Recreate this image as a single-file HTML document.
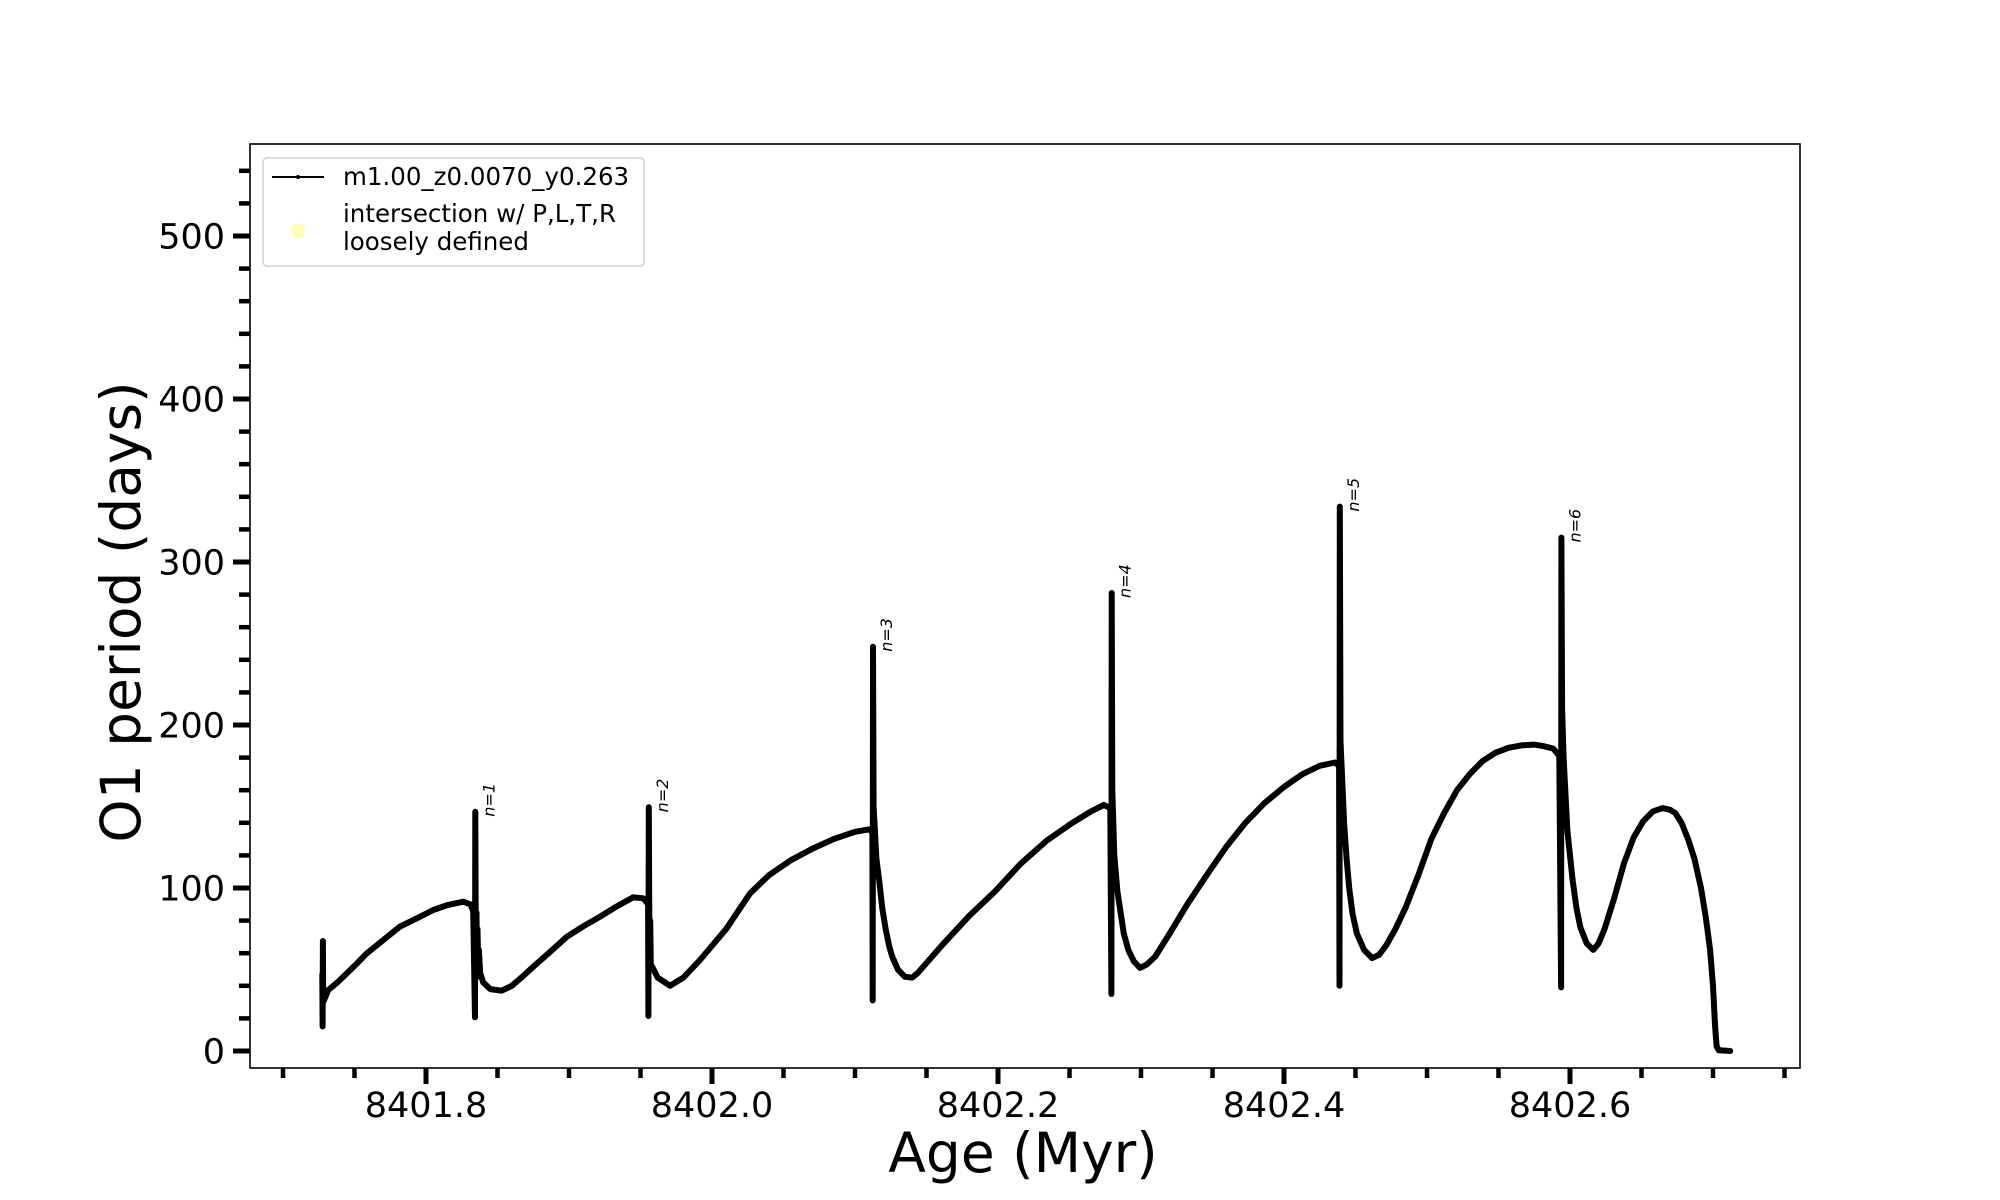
<!DOCTYPE html>
<html><head><meta charset="utf-8"><style>
html,body{margin:0;padding:0;background:#fff;}
svg{display:block;font-family:"DejaVu Sans","Liberation Sans",sans-serif;}
</style></head><body>
<svg id="chart" width="2000" height="1200" viewBox="0 0 2000 1200" xmlns="http://www.w3.org/2000/svg">
<rect x="0" y="0" width="2000" height="1200" fill="#fff"/>
<g id="ticks"></g>
<g id="plot"></g>
<rect x="250" y="144" width="1550" height="924" fill="none" stroke="#000" stroke-width="1.6"/>
<text x="1023" y="1172" font-size="55" text-anchor="middle">Age (Myr)</text>
<text transform="translate(140,612) rotate(-90)" font-size="55" text-anchor="middle">O1 period (days)</text>
<g>
<rect x="263" y="158" width="381" height="108" rx="4" fill="#fff" fill-opacity="0.8" stroke="#d0d0d0" stroke-width="1.5"/>
<line x1="272" y1="177" x2="324" y2="177" stroke="#000" stroke-width="2"/>
<circle cx="298" cy="177" r="2" fill="#000"/>
<text x="343" y="185" font-size="24.5">m1.00_z0.0070_y0.263</text>
<circle cx="298" cy="231" r="7.5" fill="#ffffb8"/>
<text x="343" y="222" font-size="24.5">intersection w/ P,L,T,R</text>
<text x="343" y="250" font-size="24.5">loosely defined</text>
</g>
</svg>
<script>
const agesA = [8401.7275,8401.7277,8401.7279,8401.7281,8401.7317,8401.738,8401.745,8401.752,8401.7585,8401.77,8401.7818,8401.795,8401.8051,8401.815,8401.8261,8401.831,8401.833];
const periodsA = [47,15,67.5,30,37.4,42,48,54,59.9,68,76.3,82,86.5,89.5,91.6,90,86];
const agesB = [8401.8343,8401.8345,8401.8347,8401.835,8401.8353,8401.8356,8401.836,8401.8365,8401.837,8401.8378,8401.840,8401.845,8401.8529,8401.86,8401.868,8401.875,8401.887,8401.8984,8401.91,8401.9217,8401.933,8401.945,8401.952,8401.9553];
const periodsB = [20.7,146.8,94,45,85,50,75,52,62,48,42,38,37,40,46,51.7,61,70,76.5,82.4,88.5,94.3,93.7,90];
const agesC = [8401.9555,8401.9558,8401.9561,8401.9564,8401.9568,8401.9572,8401.958,8401.962,8401.9706,8401.98,8401.9916,8402.01,8402.0266,8402.04,8402.055,8402.07,8402.085,8402.10,8402.110,8402.1122];
const periodsC = [21.5,149.5,92,55,80,52,52,45,40,45,55.8,75,96.7,108,117,124,130,134.5,136,134];
const agesD = [8402.1124,8402.1126,8402.113,8402.115,8402.117,8402.119,8402.1214,8402.124,8402.126,8402.13,8402.1349,8402.14,8402.144,8402.152,8402.162,8402.18,8402.198,8402.216,8402.234,8402.252,8402.265,8402.274,8402.2785];
const periodsD = [31,248,150,118,104,88,75,64,58,50,45.5,45,48,56,66,83,98,115,129,140,147,151,149];
const agesE = [8402.2793,8402.2795,8402.2799,8402.2813,8402.2835,8402.2857,8402.288,8402.2911,8402.295,8402.2992,8402.304,8402.31,8402.32,8402.3324,8402.346,8402.3594,8402.373,8402.3863,8402.40,8402.4132,8402.425,8402.4357,8402.4385];
const periodsE = [35,281,160,120,98,85,72,62,55,51,53,58,72,90,108,125,140,152,162,170,175,177,175];
const agesF = [8402.4388,8402.439,8402.4395,8402.442,8402.4438,8402.4456,8402.448,8402.451,8402.456,8402.4617,8402.4665,8402.4716,8402.478,8402.485,8402.494,8402.503,8402.512,8402.521,8402.53,8402.539,8402.548,8402.5569,8402.5659,8402.5749,8402.5816,8402.5883,8402.5925];
const periodsF = [40,334,190,140,118,100,84,72,62,57,59,65,75,88,108,130,146,160,170,178,183,186,187.5,188,187,185.5,181];
const agesG = [8402.5938,8402.594,8402.5945,8402.5955,8402.5982,8402.6018,8402.6045,8402.6072,8402.6117,8402.6162,8402.62,8402.6242,8402.631,8402.6377,8402.6445,8402.6512,8402.658,8402.6647,8402.67,8402.6736,8402.678,8402.6826,8402.687,8402.6916,8402.695,8402.698,8402.70,8402.7015,8402.7025,8402.704,8402.712];
const periodsG = [39,315,210,180,135,105,88,76,66,62,66,75,94,115,131,141,147,149,148,146,140,130,118,100,82,62,40,15,3,0.5,0];
const spikeAges = [8401.8345,8401.9558,8402.1126,8402.2795,8402.439,8402.594];
const spikePeaks = [146.8,149.5,248,281,334,315];
const spikeLabels = ["n=1","n=2","n=3","n=4","n=5","n=6"];
const yMajorTicks = [0,100,200,300,400,500];
const xMajorTicks = [8401.8,8402.0,8402.2,8402.4,8402.6];
const xTickLabels = ["8401.8","8402.0","8402.2","8402.4","8402.6"];

const ages = [].concat(agesA, agesB, agesC, agesD, agesE, agesF, agesG);
const periods = [].concat(periodsA, periodsB, periodsC, periodsD, periodsE, periodsF, periodsG);

const NS = "http://www.w3.org/2000/svg";
function xs(a){ return 712 + (a - 8402) * 1430; }
function ys(p){ return 1051 - p * 1.63; }
function mk(tag, attrs, parent){
  const el = document.createElementNS(NS, tag);
  for (const k in attrs) el.setAttribute(k, attrs[k]);
  parent.appendChild(el);
  return el;
}
const plot = document.getElementById('plot');
const ticks = document.getElementById('ticks');

let pts = [];
const n = Math.min(ages.length, periods.length);
for (let i = 0; i < n; i++) pts.push(xs(ages[i]).toFixed(1) + ',' + ys(periods[i]).toFixed(1));
const line = mk('polyline', {points: pts.join(' '), fill: 'none', stroke: '#000', 'stroke-width': 6, 'stroke-linejoin': 'round', 'stroke-linecap': 'round'}, plot);



for (let i = 0; i < spikeAges.length; i++) {
  const tx = xs(spikeAges[i]) + 19, ty = ys(spikePeaks[i]) + 5;
  const t = mk('text', {transform: 'translate(' + tx + ',' + ty + ') rotate(-90)', 'font-size': 16, 'font-style': 'italic'}, plot);
  t.textContent = spikeLabels[i];
  
  
}

for (let v = 0; v <= 540; v += 20) {
  const major = yMajorTicks.indexOf(v) >= 0;
  const y = ys(v);
  const tk = mk('line', {x1: major ? 233 : 239, x2: 250, y1: y, y2: y, stroke: '#000', 'stroke-width': major ? 5 : 4.5}, ticks);
  
  
}
for (const v of yMajorTicks) {
  const t = mk('text', {x: 225, y: ys(v) + 12.5, 'font-size': 35, 'text-anchor': 'end'}, ticks);
  t.textContent = String(v);
  
  
}
for (let k = 0; k <= 21; k++) {
  const a = 8401.70 + k * 0.05;
  const major = (k % 4) === 2;
  const x = xs(a);
  const tk = mk('line', {x1: x, x2: x, y1: 1068, y2: major ? 1084 : 1078, stroke: '#000', 'stroke-width': major ? 5 : 4.5}, ticks);
  
  
}
for (let i = 0; i < xMajorTicks.length; i++) {
  const t = mk('text', {x: xs(xMajorTicks[i]), y: 1117, 'font-size': 35, 'text-anchor': 'middle'}, ticks);
  t.textContent = xTickLabels[i];
  
  
}
</script>
</body></html>
